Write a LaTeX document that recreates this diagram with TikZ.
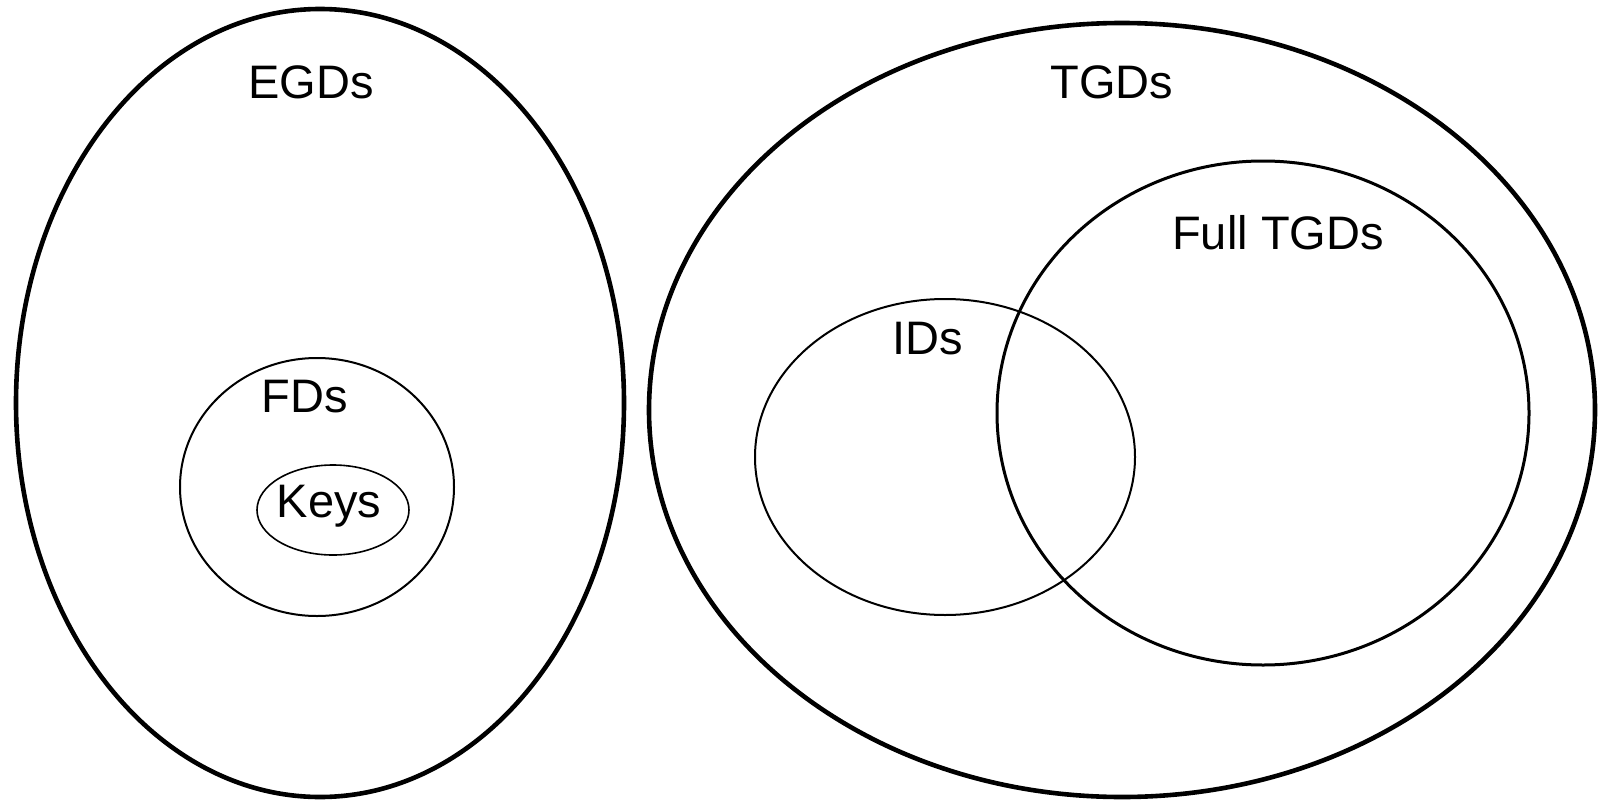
\documentclass[tikz,border=0pt]{standalone}
\usepackage{fontspec}
\setmainfont{Liberation Sans}
\begin{document}
\begin{tikzpicture}[x=1pt,y=-1pt,
  outer/.style={draw=black,line width=4.6pt},
  midset/.style={draw=black,line width=3pt},
  inner/.style={draw=black,line width=2pt},
  small/.style={draw=black,line width=1.6pt},
  lbl/.style={font=\fontsize{47}{50}\selectfont,inner sep=0pt}]
\useasboundingbox (0,0) rectangle (1598,800);
\draw[outer] (320,403) ellipse [x radius=304, y radius=394];
\draw[outer] (1122,410) ellipse [x radius=473, y radius=387];
\draw[midset] (1263,413) ellipse [x radius=266, y radius=252];
\draw[inner] (945,457) ellipse [x radius=190, y radius=158];
\draw[inner] (317,487) ellipse [x radius=137, y radius=129];
\draw[small] (333,510) ellipse [x radius=76, y radius=45];
\node[lbl] (egd) at (311,82) {EGDs};
\node[lbl] (tgd) at (1112,82) {TGDs};
\node[lbl] (full) at (1278,233) {Full TGDs};
\node[lbl] (ids) at (928,339) {IDs};
\node[lbl] (fds) at (305,397) {FDs};
\node[lbl] (keys) at (329,506) {Keys};
\end{tikzpicture}
\end{document}
